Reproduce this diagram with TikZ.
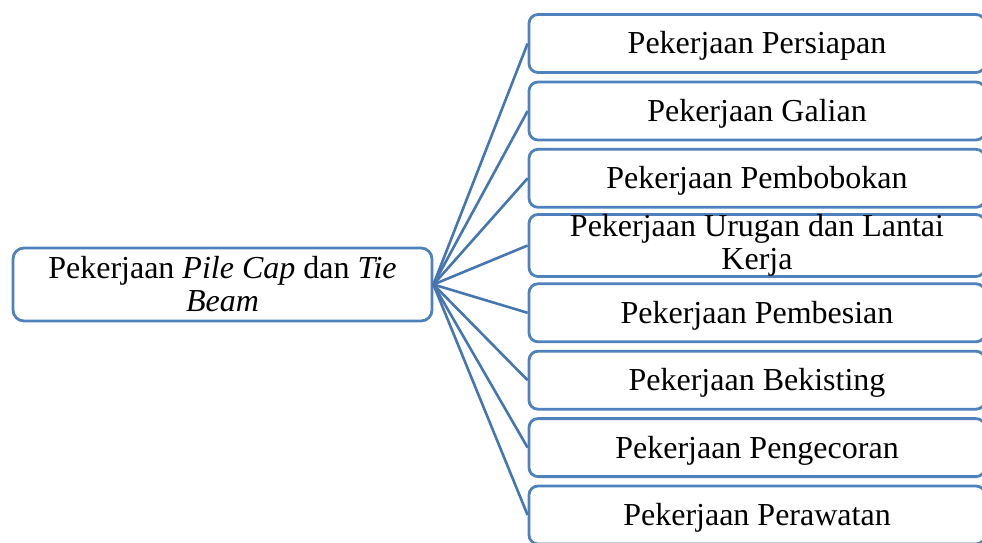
\documentclass[tikz,border=0pt]{standalone}
\usepackage{fontspec}
\setmainfont{Liberation Serif}
\definecolor{boxblue}{RGB}{79,129,189}
\definecolor{lineblue}{RGB}{70,118,176}
\tikzset{
  boxbase/.style={draw=boxblue, line width=2.8pt, fill=white, inner sep=0pt,
    align=center, font=\fontsize{32}{33}\selectfont},
  stepbox/.style={boxbase, rounded corners=9pt,
    minimum width=456pt, minimum height=58pt},
  onebox/.style={stepbox, text height=21pt, text depth=0pt},
  rootbox/.style={boxbase, rounded corners=11pt,
    minimum width=419pt, minimum height=73pt},
  link/.style={draw=lineblue, line width=2.6pt}
}
\begin{document}
\begin{tikzpicture}[x=1pt,y=-1pt]
\useasboundingbox (0,0) rectangle (982,543);
\node[rootbox] (root) at (222.5,284.5) {Pekerjaan \textit{Pile Cap} dan \textit{Tie}\\\textit{Beam}};
\node[onebox] (b1) at (757,43.5) {Pekerjaan Persiapan};
\node[onebox] (b2) at (757,111) {Pekerjaan Galian};
\node[onebox] (b3) at (757,178.3) {Pekerjaan Pembobokan};
\node[stepbox] (b4) at (757,245.5) {Pekerjaan Urugan dan Lantai\\Kerja};
\node[onebox] (b5) at (757,312.8) {Pekerjaan Pembesian};
\node[onebox] (b6) at (757,380.2) {Pekerjaan Bekisting};
\node[onebox] (b7) at (757,447.6) {Pekerjaan Pengecoran};
\node[onebox] (b8) at (757,515) {Pekerjaan Perawatan};
\foreach \i in {1,...,8}{
  \draw[link] (root.east) -- (b\i.west);
}
\end{tikzpicture}
\end{document}
